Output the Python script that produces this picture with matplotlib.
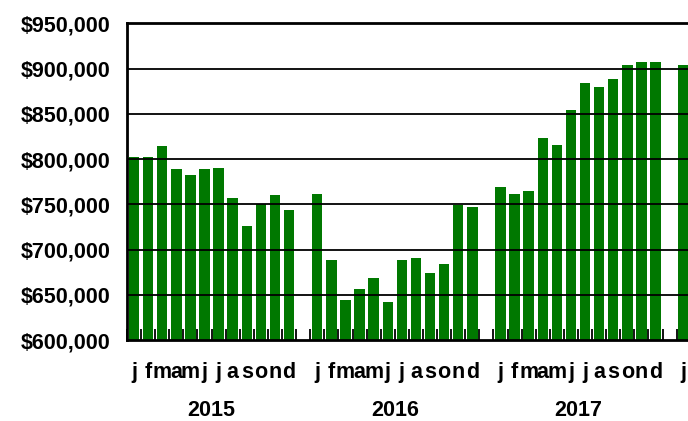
import matplotlib
matplotlib.use("Agg")
import matplotlib.pyplot as plt
import numpy as np

years = ["2015", "2016", "2017", "2018"]
month_letters = ["j", "f", "m", "a", "m", "j", "j", "a", "s", "o", "n", "d"]
values_2015 = [802000, 802000, 814000, 789000, 782000, 789000, 790000, 757000, 726000, 750000, 760000, 744000]
values_2016 = [761000, 688000, 644000, 656000, 668000, 642000, 688000, 691000, 674000, 684000, 749000, 747000]
values_2017 = [769000, 761000, 765000, 823000, 815000, 854000, 884000, 880000, 888000, 904000, 907000, 907000]
values_2018 = [904000]
y_ticks = [600000, 650000, 700000, 750000, 800000, 850000, 900000, 950000]

series = [values_2015, values_2016, values_2017, values_2018]

FONT = ["Liberation Sans", "DejaVu Sans"]
plt.rcParams["font.family"] = FONT

fig = plt.figure(figsize=(6.88, 4.21), dpi=100)
ax = fig.add_axes([127 / 688, 1 - 340 / 421, 1 - 127 / 688 + 0.004, (340 - 23.3) / 421])

xs, vals, labels = [], [], []
for yi, vs in enumerate(series):
    for mi, v in enumerate(vs):
        xs.append(yi * 13 + mi)
        vals.append(v)
        labels.append(month_letters[mi])

ax.bar(xs, vals, width=0.74, color="#007800", edgecolor="none", zorder=1)

ax.set_ylim(600000, 950000)
ax.set_xlim(-0.42, 39.1)
ax.set_yticks(y_ticks)
ax.set_yticklabels([f"${v:,}" for v in y_ticks], fontsize=15.5, fontweight="bold")
ax.tick_params(axis="y", length=0, pad=12)

ax.set_xticks(xs)
ax.set_xticklabels(labels, fontsize=15.5, fontweight="bold")
ax.tick_params(axis="x", which="major", length=0, pad=16)
ax.set_xticks(np.arange(-0.5, 39.6, 1.0), minor=True)
ax.tick_params(axis="x", which="minor", direction="in", length=8, width=1.3, color="black")

for v in y_ticks[1:-1]:
    ax.axhline(v, color="black", linewidth=1.3, zorder=2)

for side in ["left", "bottom", "top"]:
    ax.spines[side].set_linewidth(2)
    ax.spines[side].set_color("black")
    ax.spines[side].set_zorder(3)
ax.spines["right"].set_visible(False)

for yi, yr in enumerate(years[:3]):
    cx = yi * 13 + 5.5
    ax.text(cx, -0.222, yr, transform=ax.get_xaxis_transform(), ha="center", va="center",
            fontsize=15.5, fontweight="bold")

fig.savefig("out.png", dpi=100)
